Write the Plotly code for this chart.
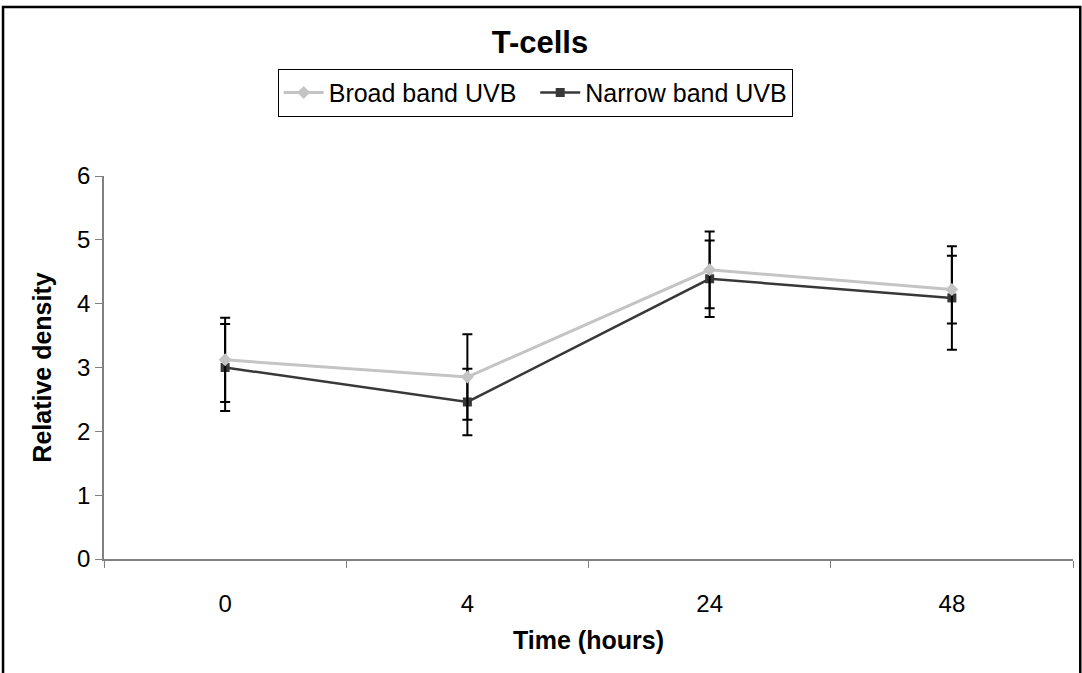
import plotly.graph_objects as go

# Time points (hours) and relative T-cell density
hours = ["0", "4", "24", "48"]
broad_band = [3.12, 2.85, 4.53, 4.22]
broad_err = [0.66, 0.67, 0.60, 0.53]
narrow_band = [3.00, 2.46, 4.39, 4.09]
narrow_err = [0.68, 0.52, 0.60, 0.81]

FONT = "Liberation Sans, Arial, sans-serif"

fig = go.Figure()

fig.add_trace(go.Scatter(
    x=hours, y=narrow_band, name="Narrow band UVB", mode="lines+markers",
    line=dict(color="#383838", width=2.5),
    marker=dict(symbol="square", size=9, color="#383838"),
    error_y=dict(type="data", array=narrow_err, color="black", thickness=2, width=5),
))
fig.add_trace(go.Scatter(
    x=hours, y=broad_band, name="Broad band UVB  ", mode="lines+markers",
    line=dict(color="#c4c4c4", width=3),
    marker=dict(symbol="diamond", size=10, color="#c4c4c4"),
    error_y=dict(type="data", array=broad_err, color="black", thickness=2, width=5),
))

# outer frame around the whole figure
fig.add_shape(type="rect", xref="paper", yref="paper",
              x0=-0.1042, x1=1.0075, y0=-0.33, y1=1.4413,
              line=dict(color="black", width=2.5), fillcolor="rgba(0,0,0,0)")

fig.update_layout(
    width=1082, height=673,
    margin=dict(l=104, r=9, t=176, b=114),
    paper_bgcolor="white", plot_bgcolor="white",
    font=dict(family=FONT, size=24, color="black"),
    title=dict(text="<b>T-cells</b>", x=0.499, xanchor="center",
               y=1 - 42 / 673, yanchor="middle",
               font=dict(family=FONT, size=31, color="black")),
    showlegend=True,
    legend=dict(orientation="h", traceorder="reversed",
                x=0.445, xanchor="center", y=1.28, yanchor="top",
                bordercolor="black", borderwidth=1, bgcolor="white",
                font=dict(family=FONT, size=25), itemwidth=40,
                tracegroupgap=0),
    xaxis=dict(type="category", categoryorder="array", categoryarray=hours,
               range=[-0.5, 3.5],
               showline=True, linecolor="#808080", linewidth=1.5,
               ticks="outside", tickson="boundaries", ticklen=7,
               tickcolor="#808080", showgrid=False, zeroline=False,
               ticklabelstandoff=22,
               tickfont=dict(family=FONT, size=24),
               title=dict(text="<b>Time (hours)</b>", standoff=16,
                          font=dict(family=FONT, size=25))),
    yaxis=dict(range=[0, 6], dtick=1, showline=True, linecolor="#808080",
               linewidth=1.5, ticks="outside", ticklen=7, tickcolor="#808080",
               showgrid=False, zeroline=False,
               tickfont=dict(family=FONT, size=24),
               title=dict(text="<b>Relative density</b>", standoff=18,
                          font=dict(family=FONT, size=25))),
)

fig.write_html("out.html")
